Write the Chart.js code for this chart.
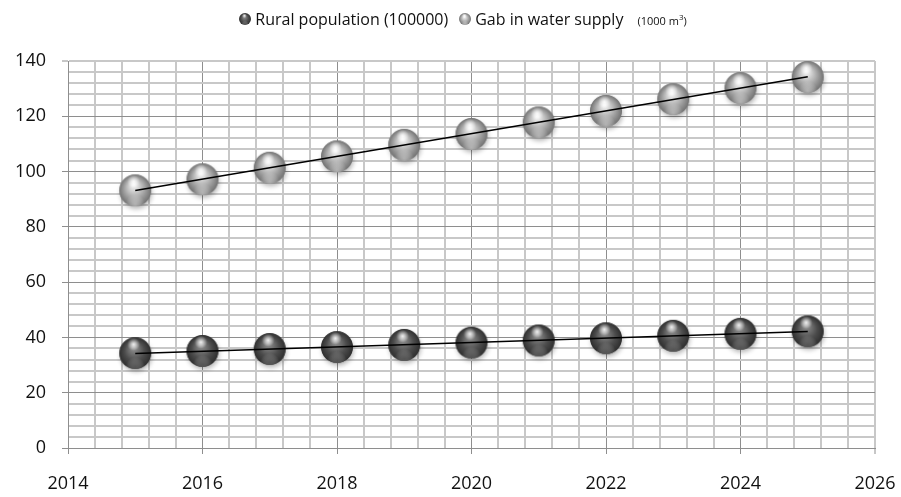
<!DOCTYPE html>
<html>
<head>
<meta charset="utf-8">
<script src="https://cdn.jsdelivr.net/npm/chart.js@4.4.1/dist/chart.umd.min.js"></script>
<style>
    html, body { margin: 0; padding: 0; background: #fff; }
    #wrap { position: relative; width: 901px; height: 497px; }
    #legend {
        position: absolute; top: 8px; left: 11px; width: 901px;
        display: flex; justify-content: center; align-items: center;
        font-family: "Open Sans", sans-serif; font-size: 16px; color: #111;
    }
    .item { display: flex; align-items: center; margin: 0 4px; }
    .item canvas { margin-right: 1px; }
    .unit { font-size: 11px; margin-left: 14px; }
    .unit sup { font-size: 8px; }
</style>
</head>
<body>
<div id="wrap">
    <canvas id="chart" width="901" height="497"></canvas>
    <div id="legend"></div>
</div>
<script>
// years and series values
const years = [2015, 2016, 2017, 2018, 2019, 2020, 2021, 2022, 2023, 2024, 2025];
const ruralPopulation = [34.3, 35.1, 35.8, 36.5, 37.3, 38.1, 38.9, 39.7, 40.6, 41.3, 42.2];
const waterGap = [93.2, 97.2, 101.4, 105.5, 109.7, 113.6, 117.8, 122.0, 126.2, 130.2, 134.2];

const xTicks = [2014, 2016, 2018, 2020, 2022, 2024, 2026];
const yTicks = [0, 20, 40, 60, 80, 100, 120, 140];

const seriesNames = ['Rural population (100000)', 'Gab in water supply'];

const FONT = '"Open Sans", sans-serif';
const MAJOR = '#8e8e8e';
const MINOR = '#c8c8c8';

const darkShades = { hi: '#909090', mid: '#4c4c4c', edge: '#2e2e2e', glow: 'rgba(120,120,120,0.45)' };
const lightShades = { hi: '#f6f6f6', mid: '#a6a6a6', edge: '#727272', glow: 'rgba(220,220,220,0.55)' };

// glossy ball used as point style
function makeSphere(r, s, withShadow) {
    const pad = Math.ceil(r * 0.45);
    const size = (r + pad) * 2;
    const c = document.createElement('canvas');
    c.width = c.height = size;
    const g = c.getContext('2d');
    const cx = size / 2, cy = size / 2;

    if (withShadow) {
        g.save();
        g.shadowColor = 'rgba(0,0,0,0.3)';
        g.shadowBlur = r * 0.3;
        g.shadowOffsetX = 1;
        g.shadowOffsetY = r * 0.18;
        g.fillStyle = s.edge;
        g.beginPath(); g.arc(cx, cy, r - 0.5, 0, Math.PI * 2); g.fill();
        g.restore();
    }

    const body = g.createRadialGradient(cx - r * 0.1, cy - r * 0.35, r * 0.05, cx, cy, r);
    body.addColorStop(0, s.hi);
    body.addColorStop(0.6, s.mid);
    body.addColorStop(1, s.edge);
    g.fillStyle = body;
    g.beginPath(); g.arc(cx, cy, r, 0, Math.PI * 2); g.fill();

    // soft reflection at the bottom
    const low = g.createRadialGradient(cx, cy + r * 0.85, 0, cx, cy + r * 0.85, r * 0.6);
    low.addColorStop(0, s.glow);
    low.addColorStop(1, 'rgba(255,255,255,0)');
    g.save();
    g.beginPath(); g.arc(cx, cy, r, 0, Math.PI * 2); g.clip();
    g.fillStyle = low;
    g.fillRect(0, 0, size, size);

    // specular spot near the top
    const spot = g.createRadialGradient(cx - r * 0.1, cy - r * 0.55, 0, cx - r * 0.1, cy - r * 0.55, r * 0.4);
    spot.addColorStop(0, 'rgba(255,255,255,0.9)');
    spot.addColorStop(1, 'rgba(255,255,255,0)');
    g.fillStyle = spot;
    g.fillRect(0, 0, size, size);
    g.restore();
    return c;
}

function trend(xs, ys) {
    const n = xs.length;
    const mx = xs.reduce((a, b) => a + b, 0) / n;
    const my = ys.reduce((a, b) => a + b, 0) / n;
    let sxy = 0, sxx = 0;
    for (let i = 0; i < n; i++) { sxy += (xs[i] - mx) * (ys[i] - my); sxx += (xs[i] - mx) ** 2; }
    const k = sxy / sxx;
    return [xs[0], xs[n - 1]].map(x => ({ x, y: my + k * (x - mx) }));
}

const toPoints = vals => years.map((x, i) => ({ x, y: vals[i] }));

const isMajorX = v => Math.abs(v / 2 - Math.round(v / 2)) < 1e-6;
const isMajorY = v => Math.abs(v / 20 - Math.round(v / 20)) < 1e-6;

const darkBall = makeSphere(16, darkShades, true);
const lightBall = makeSphere(16, lightShades, true);

new Chart(document.getElementById('chart'), {
    type: 'scatter',
    data: {
        datasets: [
            { label: seriesNames[0], data: toPoints(ruralPopulation), pointStyle: darkBall, order: 2 },
            { label: seriesNames[1], data: toPoints(waterGap), pointStyle: lightBall, order: 2 },
            { data: trend(years, ruralPopulation), showLine: true, borderColor: '#000', borderWidth: 1.5, pointRadius: 0, order: 1 },
            { data: trend(years, waterGap), showLine: true, borderColor: '#000', borderWidth: 1.5, pointRadius: 0, order: 1 }
        ]
    },
    options: {
        responsive: false,
        animation: false,
        layout: { padding: { top: 61, right: 26, left: 0, bottom: 0 } },
        plugins: { legend: { display: false }, tooltip: { enabled: false } },
        scales: {
            x: {
                type: 'linear', min: xTicks[0], max: xTicks[xTicks.length - 1],
                afterFit: s => { s.height = 49; s.paddingLeft = 0; s.paddingRight = 0; },
                ticks: {
                    stepSize: 0.4, autoSkip: false, maxRotation: 0, padding: 19,
                    color: '#111', font: { family: FONT, size: 18 },
                    callback: v => xTicks.includes(Math.round(v * 10) / 10) ? String(Math.round(v)) : ''
                },
                grid: {
                    tickLength: 6,
                    color: c => (isMajorX(c.tick.value) && c.tick.value < 2026) ? MAJOR : MINOR,
                    lineWidth: c => (isMajorX(c.tick.value) && c.tick.value < 2026) ? 1 : 2,
                    tickColor: c => isMajorX(c.tick.value) ? MAJOR : 'rgba(0,0,0,0)',
                    tickWidth: 1
                },
                border: { color: MAJOR, width: 1 }
            },
            y: {
                min: yTicks[0], max: yTicks[yTicks.length - 1],
                afterFit: s => { s.width = 68; s.paddingTop = 0; s.paddingBottom = 0; },
                ticks: {
                    stepSize: 4, autoSkip: false, padding: 16,
                    color: '#111', font: { family: FONT, size: 18 },
                    callback: v => yTicks.includes(v) ? String(v) : ''
                },
                grid: {
                    tickLength: 6,
                    color: c => (isMajorY(c.tick.value) && c.tick.value < 140) ? MAJOR : MINOR,
                    lineWidth: c => (isMajorY(c.tick.value) && c.tick.value < 140) ? 1 : 2,
                    tickColor: c => isMajorY(c.tick.value) ? MAJOR : 'rgba(0,0,0,0)',
                    tickWidth: 1
                },
                border: { color: MAJOR, width: 1 }
            }
        }
    }
});

// legend with small balls
const legend = document.getElementById('legend');
[[darkShades, seriesNames[0], ''], [lightShades, seriesNames[1], '(1000 m<sup>3</sup>)']].forEach(([shades, name, unit]) => {
    const item = document.createElement('div');
    item.className = 'item';
    item.appendChild(makeSphere(6, shades, false));
    const text = document.createElement('span');
    text.textContent = name;
    item.appendChild(text);
    if (unit) {
        const u = document.createElement('span');
        u.className = 'unit';
        u.innerHTML = unit;
        item.appendChild(u);
    }
    legend.appendChild(item);
});
</script>
</body>
</html>
